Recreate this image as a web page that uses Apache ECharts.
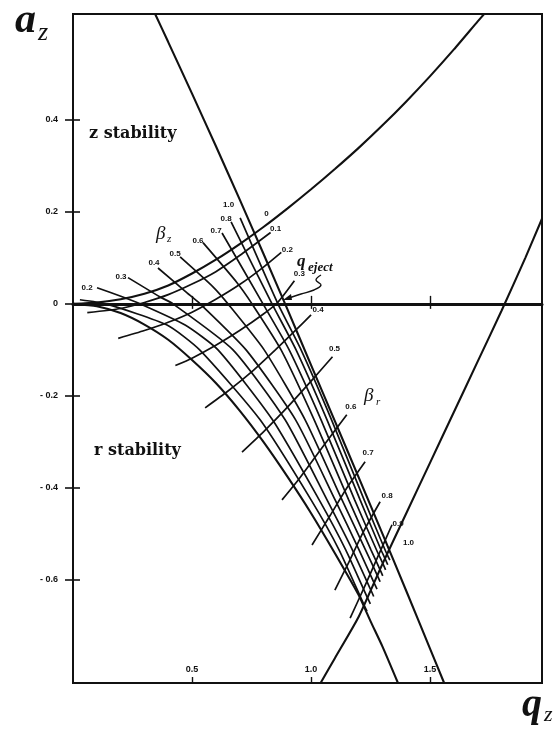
<!DOCTYPE html>
<html>
<head>
<meta charset="utf-8">
<script src="https://cdn.jsdelivr.net/npm/echarts@6/dist/echarts.min.js"></script>
<style>html,body{margin:0;padding:0;background:#fff}#c{width:560px;height:734px}</style>
</head>
<body>
<div id="c"></div>
<script>
// ---- tick values ----
const qTicks = [0.5, 1.0, 1.5];
const aTicks = [-0.6, -0.4, -0.2, 0, 0.2, 0.4];

// ---- stability boundaries (q_z, a_z) ----
const betaZ0 = [[0,0],[0.1,-0.005],[0.2,-0.02],[0.3,-0.045],[0.4,-0.078],[0.5,-0.122],[0.6,-0.172],[0.7,-0.232],[0.8,-0.300],[0.9,-0.375],[1.0,-0.455],[1.1,-0.542],[1.2,-0.633],[1.25,-0.69],[1.3,-0.745],[1.365,-0.824]];
const betaZ1 = [[0.345,0.63],[0.4,0.569],[0.5,0.457],[0.6,0.343],[0.7,0.227],[0.8,0.109],[0.9,-0.011],[1.0,-0.133],[1.1,-0.255],[1.2,-0.377],[1.3,-0.5],[1.4,-0.624],[1.5,-0.75],[1.559,-0.824]];
const betaR0 = [[0,0],[0.1,0.003],[0.2,0.01],[0.3,0.022],[0.4,0.04],[0.5,0.066],[0.6,0.096],[0.7,0.13],[0.8,0.167],[0.9,0.207],[1.0,0.249],[1.1,0.293],[1.2,0.339],[1.3,0.388],[1.4,0.44],[1.5,0.495],[1.6,0.553],[1.7,0.614],[1.727,0.63]];
const betaR1 = [[1.04,-0.824],[1.1,-0.77],[1.2,-0.68],[1.3,-0.565],[1.4,-0.455],[1.5,-0.345],[1.6,-0.235],[1.7,-0.125],[1.8,-0.015],[1.9,0.1],[1.97,0.185]];

// ---- iso-beta_z lines ----
const isoBetaZ01 = [[0.029,0.009],[0.139,0],[0.395,-0.046],[0.532,-0.1],[0.786,-0.252],[1.0,-0.426],[1.118,-0.535],[1.223,-0.655],[1.235,-0.668]];
const isoBetaZ02 = [[0.101,0.035],[0.198,0.017],[0.282,0],[0.471,-0.046],[0.609,-0.1],[0.838,-0.252],[1.034,-0.426],[1.146,-0.535],[1.237,-0.639],[1.249,-0.652]];
const isoBetaZ03 = [[0.231,0.057],[0.366,0.015],[0.420,0],[0.672,-0.1],[0.891,-0.252],[1.067,-0.426],[1.174,-0.535],[1.252,-0.623],[1.263,-0.636]];
const isoBetaZ04 = [[0.357,0.078],[0.479,0.024],[0.534,0],[0.727,-0.1],[0.935,-0.252],[1.101,-0.426],[1.202,-0.535],[1.265,-0.607],[1.277,-0.62]];
const isoBetaZ05 = [[0.450,0.102],[0.588,0.037],[0.651,0],[0.803,-0.1],[0.975,-0.252],[1.130,-0.426],[1.229,-0.535],[1.279,-0.591],[1.29,-0.604]];
const isoBetaZ06 = [[0.546,0.133],[0.689,0.046],[0.752,0],[0.874,-0.1],[1.013,-0.252],[1.158,-0.426],[1.252,-0.535],[1.29,-0.578],[1.301,-0.591]];
const isoBetaZ07 = [[0.626,0.154],[0.798,0],[0.908,-0.1],[1.042,-0.252],[1.183,-0.426],[1.275,-0.535],[1.302,-0.565],[1.313,-0.578]];
const isoBetaZ08 = [[0.664,0.178],[0.836,0],[0.937,-0.1],[1.067,-0.252],[1.206,-0.426],[1.294,-0.535],[1.311,-0.554],[1.322,-0.567]];
const isoBetaZ09 = [[0.702,0.187],[0.861,0],[0.958,-0.1],[1.086,-0.252],[1.223,-0.426],[1.311,-0.535],[1.319,-0.544],[1.331,-0.557]];

// ---- iso-beta_r lines ----
const isoBetaR01 = [[0.06,-0.019],[0.2,-0.01],[0.3,0.003],[0.4,0.02],[0.5,0.043],[0.6,0.07],[0.7,0.105],[0.83,0.155]];
const isoBetaR02 = [[0.19,-0.075],[0.3,-0.058],[0.4,-0.04],[0.5,-0.018],[0.6,0.01],[0.7,0.042],[0.8,0.08],[0.875,0.112]];
const isoBetaR03 = [[0.43,-0.134],[0.5,-0.118],[0.6,-0.09],[0.7,-0.058],[0.8,-0.022],[0.86,0.003],[0.93,0.05]];
const isoBetaR04 = [[0.555,-0.226],[0.65,-0.19],[0.75,-0.148],[0.85,-0.1],[0.93,-0.06],[1.0,-0.024]];
const isoBetaR05 = [[0.71,-0.322],[0.8,-0.278],[0.9,-0.225],[1.0,-0.168],[1.09,-0.115]];
const isoBetaR06 = [[0.878,-0.426],[0.95,-0.38],[1.05,-0.31],[1.15,-0.241]];
const isoBetaR07 = [[1.004,-0.524],[1.08,-0.46],[1.15,-0.4],[1.227,-0.343]];
const isoBetaR08 = [[1.1,-0.622],[1.16,-0.56],[1.22,-0.495],[1.29,-0.43]];
const isoBetaR09 = [[1.164,-0.683],[1.22,-0.62],[1.28,-0.55],[1.34,-0.48]];

const betaZNames = ['0.1','0.2','0.3','0.4','0.5','0.6','0.7','0.8','0.9'];
const betaRNames = ['0.1','0.2','0.3','0.4','0.5','0.6','0.7','0.8','0.9'];

const isoZ = [isoBetaZ01,isoBetaZ02,isoBetaZ03,isoBetaZ04,isoBetaZ05,isoBetaZ06,isoBetaZ07,isoBetaZ08,isoBetaZ09];
const isoR = [isoBetaR01,isoBetaR02,isoBetaR03,isoBetaR04,isoBetaR05,isoBetaR06,isoBetaR07,isoBetaR08,isoBetaR09];

// label offsets (pixels, layout only)
const zLabelOffset = [null, [-10,0], [-7,-1], [-4,-5], [-5,-3], [-5,-2], [-6,-2], [-5,-3], null];
const rLabelOffset = [[5,-4], [6,-3], [5,-7], [7,-5], [2,-8], [4,-8], [3,-9], [7,-6], [6,-1]];

const INK = '#111111';
const smallFont = {fontSize: 8, fontWeight: 'bold', fontFamily: '"Liberation Sans", Arial, sans-serif', color: INK};
const tickFont = {fontSize: 9, fontWeight: 'bold', fontFamily: '"Liberation Sans", Arial, sans-serif', color: INK};

function mark(data, idx, text, off) {
  const p = data[idx < 0 ? data.length + idx : idx];
  return {coord: p, symbol: 'circle', symbolSize: 1, itemStyle: {color: 'rgba(0,0,0,0)'},
    label: Object.assign({show: true, position: 'inside', offset: off, formatter: text}, smallFont)};
}
function line(name, data, width, marks) {
  const s = {name, type: 'line', data, showSymbol: false, symbol: 'none', smooth: 0.2,
    lineStyle: {color: INK, width}, silent: true, animation: false, z: 3};
  if (marks && marks.length) s.markPoint = {silent: true, animation: false, data: marks};
  return s;
}

const series = [];
series.push(line('beta_z=0', betaZ0, 2.1));
series.push(line('beta_z=1', betaZ1, 2.1, [mark(betaZ1, 4, '1.0', [-11, 5])]));
series.push(line('beta_r=0', betaR0, 2.1, [mark(betaR0, 8, '0', [3, -13])]));
series.push(line('beta_r=1', betaR1, 2.1, [mark(betaR1, 3, '1.0', [26, -21])]));
isoZ.forEach((d, i) => {
  const lab = zLabelOffset[i] ? [mark(d, 0, betaZNames[i], zLabelOffset[i])] : [];
  series.push(line('beta_z=' + betaZNames[i], d, 1.7, lab));
});
isoR.forEach((d, i) => {
  series.push(line('beta_r=' + betaRNames[i], d, 1.7, [mark(d, -1, betaRNames[i], rLabelOffset[i])]));
});

const serif = '"Liberation Serif", "DejaVu Serif", serif';
const graphic = [
  {type: 'text', left: 15, top: 0, style: {text: 'a', font: 'bold italic 42px ' + serif, fill: INK}},
  {type: 'text', left: 38, top: 20, style: {text: 'z', font: 'italic 26px ' + serif, fill: INK}},
  {type: 'text', left: 522, top: 686, style: {text: 'q', font: 'bold italic 40px ' + serif, fill: INK}},
  {type: 'text', left: 544, top: 704, style: {text: 'z', font: 'italic 22px ' + serif, fill: INK}},
  {type: 'text', left: 89, top: 126, style: {text: 'z stability', font: 'bold 16px "DejaVu Serif", serif', fill: INK}},
  {type: 'text', left: 94, top: 443, style: {text: 'r stability', font: 'bold 16px "DejaVu Serif", serif', fill: INK}},
  {type: 'text', left: 156, top: 224, style: {text: 'β', font: 'italic 19px ' + serif, fill: INK}},
  {type: 'text', left: 167, top: 234, style: {text: 'z', font: 'italic 11px ' + serif, fill: INK}},
  {type: 'text', left: 364, top: 386, style: {text: 'β', font: 'italic 19px ' + serif, fill: INK}},
  {type: 'text', left: 376, top: 397, style: {text: 'r', font: 'italic 11px ' + serif, fill: INK}},
  {type: 'text', left: 297, top: 253, style: {text: 'q', font: 'bold italic 17px ' + serif, fill: INK}},
  {type: 'text', left: 308, top: 261, style: {text: 'eject', font: 'bold italic 13px ' + serif, fill: INK}},
  {type: 'polyline', shape: {points: [[321,275],[316,280],[321,285],[314,290],[301,294],[289,298]], smooth: 0.4},
    style: {stroke: INK, lineWidth: 1.4, fill: null}},
  {type: 'polygon', shape: {points: [[283,300],[291,294],[292,300]]}, style: {fill: INK}}
];

const chart = echarts.init(document.getElementById('c'), null, {renderer: 'canvas'});
chart.setOption({
  backgroundColor: '#fff',
  animation: false,
  grid: {left: 73, right: 18, top: 14, bottom: 51, show: true, borderColor: INK, borderWidth: 2, backgroundColor: 'transparent'},
  xAxis: [
    {type: 'value', min: 0, max: 1.97, position: 'bottom',
      axisLine: {onZero: false, lineStyle: {color: INK, width: 2}},
      splitLine: {show: false},
      axisTick: {inside: true, length: 6, customValues: qTicks, lineStyle: {color: INK, width: 1.4}},
      axisLabel: Object.assign({inside: true, margin: 9, customValues: qTicks, formatter: v => v.toFixed(1)}, tickFont)},
    {type: 'value', min: 0, max: 1.97, position: 'bottom',
      axisLine: {onZero: true, onZeroAxisIndex: 0, lineStyle: {color: INK, width: 3}},
      splitLine: {show: false},
      axisTick: {inside: true, length: 8, customValues: qTicks, lineStyle: {color: INK, width: 1.4}},
      axisLabel: {show: false}},
    {type: 'value', min: 0, max: 1.97, position: 'bottom',
      axisLine: {show: false, onZero: true, onZeroAxisIndex: 0},
      splitLine: {show: false},
      axisTick: {inside: false, length: 5, customValues: qTicks, lineStyle: {color: INK, width: 1.4}},
      axisLabel: {show: false}}
  ],
  yAxis: [
    {type: 'value', min: -0.824, max: 0.63, position: 'left',
      axisLine: {onZero: false, lineStyle: {color: INK, width: 2}},
      splitLine: {show: false},
      axisTick: {inside: false, length: 8, customValues: aTicks, lineStyle: {color: INK, width: 1.6}},
      axisLabel: Object.assign({margin: 15, customValues: aTicks, formatter: v => v === 0 ? '0' : v.toFixed(1).replace('-', '- ')}, tickFont)},
    {type: 'value', min: -0.824, max: 0.63, position: 'left',
      axisLine: {show: false, onZero: false},
      splitLine: {show: false},
      axisTick: {inside: true, length: 7, customValues: aTicks, lineStyle: {color: INK, width: 1.6}},
      axisLabel: {show: false}}
  ],
  series: series,
  graphic: graphic
});
</script>
</body>
</html>
